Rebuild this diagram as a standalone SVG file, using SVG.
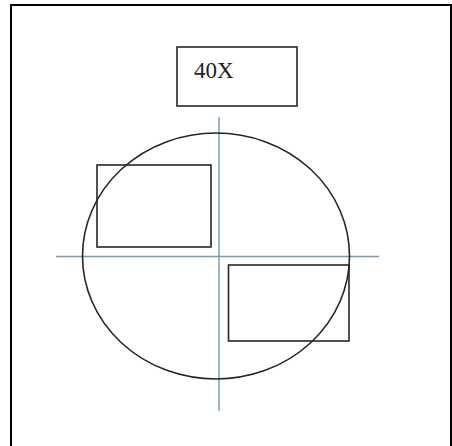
<svg xmlns="http://www.w3.org/2000/svg" width="452" height="446" viewBox="0 0 452 446">
<style>
.s{fill:none;stroke:#262626;stroke-width:1.6}
.ax{stroke:#7b9db5;stroke-width:1.5}
.t{font-family:"Liberation Serif",serif;font-size:23px;fill:#222}
</style>
<rect width="452" height="446" fill="#fff"/>
<rect x="11" y="5" width="440" height="450" fill="none" stroke="#000" stroke-width="2"/>
<g id="connectors">
<line class="ax" x1="219" y1="117" x2="219" y2="411"/>
<line class="ax" x1="56" y1="256.5" x2="379" y2="256.5"/>
</g>
<g id="circle"><ellipse class="s" cx="216" cy="256" rx="133.5" ry="123"/></g>
<g id="label"><rect class="s" x="177" y="47" width="120" height="59"/><text class="t" x="194" y="78">40X</text></g>
<g id="rect-left"><rect class="s" x="97" y="165" width="114" height="82"/></g>
<g id="rect-right"><rect class="s" x="228.5" y="265" width="120.5" height="76"/></g>
</svg>
